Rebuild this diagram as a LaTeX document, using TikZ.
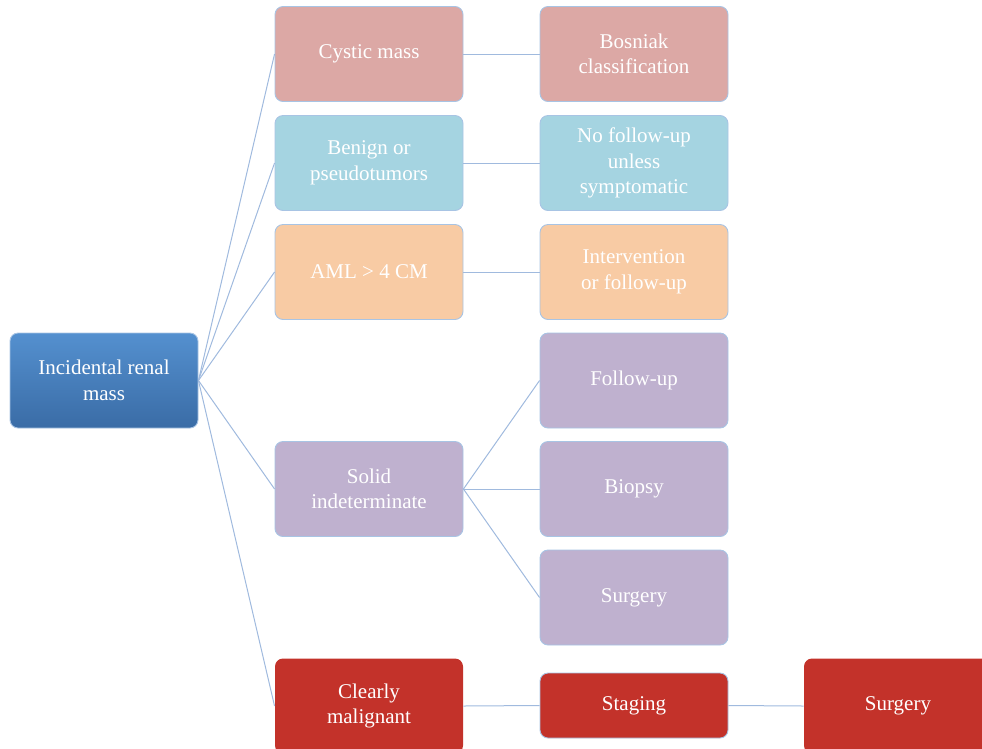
\documentclass[tikz,border=0pt]{standalone}
\usepackage{fontspec}
\setmainfont{Liberation Serif}
\definecolor{incTop}{RGB}{84,144,207}
\definecolor{incBot}{RGB}{58,108,166}
\definecolor{pinkF}{RGB}{220,168,165}
\definecolor{ltblueF}{RGB}{165,212,225}
\definecolor{peachF}{RGB}{248,203,164}
\definecolor{lavF}{RGB}{191,177,207}
\definecolor{redF}{RGB}{195,50,42}
\definecolor{borderC}{RGB}{168,196,228}
\definecolor{lineC}{RGB}{160,186,222}
\begin{document}
\begin{tikzpicture}[x=1pt,y=-1pt,
  box/.style={rectangle, rounded corners=8pt, draw=borderC, line width=0.9pt,
    minimum width=188pt, minimum height=95pt, inner sep=0pt, align=center,
    text=white, font=\fontsize{21}{25.5}\selectfont},
  conn/.style={draw=lineC, line width=1pt}]
\useasboundingbox (0,0) rectangle (982,748);
\clip (0,0) rectangle (982,748);
\node[box, top color=incTop, bottom color=incBot] (inc) at (104,380.5) {Incidental renal\\mass};
\node[box, fill=pinkF] (cyst) at (369,54) {Cystic mass};
\node[box, fill=pinkF] (bos) at (634,54) {Bosniak\\classification};
\node[box, fill=ltblueF] (ben) at (369,163) {Benign or\\pseudotumors};
\node[box, fill=ltblueF] (nof) at (634,163) {No follow-up\\unless\\symptomatic};
\node[box, fill=peachF] (aml) at (369,272) {AML > 4 CM};
\node[box, fill=peachF] (int) at (634,272) {Intervention\\or follow-up};
\node[box, fill=lavF] (fol) at (634,380.5) {Follow-up};
\node[box, fill=lavF] (sol) at (369,489) {Solid\\indeterminate};
\node[box, fill=lavF] (bio) at (634,489) {Biopsy};
\node[box, fill=lavF] (sur) at (634,597.5) {Surgery};
\node[box, fill=redF, draw=none] (mal) at (369,706) {Clearly\\malignant};
\node[box, fill=redF, minimum height=65pt] (sta) at (634,705.5) {Staging};
\node[box, fill=redF, draw=none] (sur2) at (898,706) {Surgery};
\foreach \t in {cyst,ben,aml,sol,mal} \draw[conn] (inc.east) -- (\t.west);
\draw[conn] (cyst.east) -- (bos.west);
\draw[conn] (ben.east) -- (nof.west);
\draw[conn] (aml.east) -- (int.west);
\foreach \t in {fol,bio,sur} \draw[conn] (sol.east) -- (\t.west);
\draw[conn] (mal.east) -- (sta.west);
\draw[conn] (sta.east) -- (sur2.west);
\end{tikzpicture}
\end{document}
